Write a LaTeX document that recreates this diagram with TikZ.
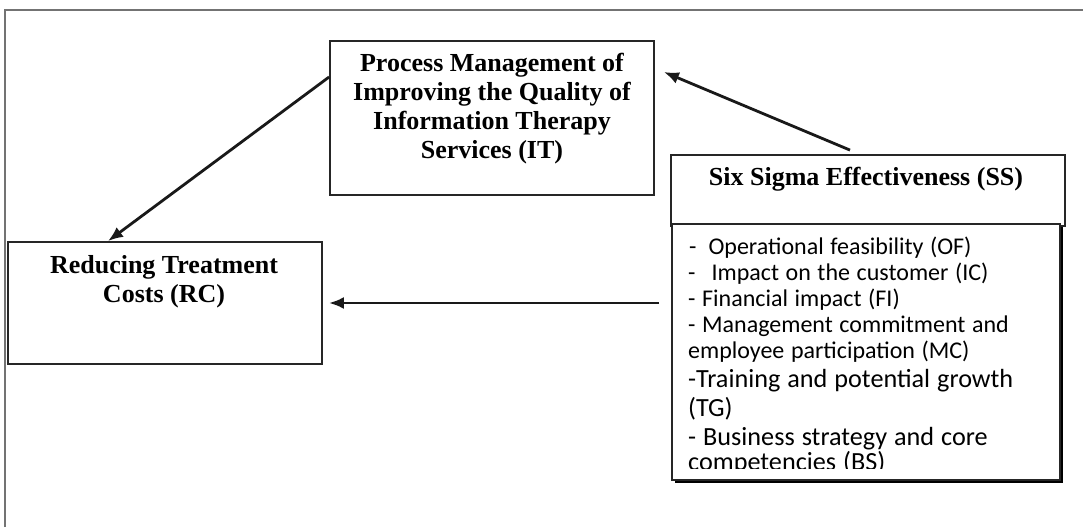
\documentclass[tikz,border=0pt]{standalone}
\usepackage{fontspec}
\setmainfont{Liberation Serif}
\newfontfamily\calibri{Carlito}
\usetikzlibrary{arrows.meta, positioning, shadows}
\tikzset{box/.style = {
  rectangle,
  draw=black!85, line width=1.8pt,
  fill=white, inner sep=0pt
  }}
\tikzset{title/.style = {
  font=\bfseries\fontsize{26}{28.7}\selectfont,
  align=center, inner sep=0pt,
  anchor=base
  }}
\tikzset{items/.style = {
  font=\calibri, text width=370pt,
  align=left, inner sep=0pt,
  anchor=base west
  }}
\tikzset{arrow/.style = {
  -{Latex[length=15pt, width=12pt]},
  line width=2.8pt,
  draw=black!90
  }}

\begin{document}
\begin{tikzpicture}[x=1pt, y=-1pt]
\useasboundingbox (0,0) rectangle (1083,527);
% frame
\draw [black!55, line width=1.6pt] (5,527) -- (5,10) -- (1083,10);

% BOXES
\node (it) [box, minimum width=324pt, minimum height=154pt] at (492,118) {};
\node (rc) [box, minimum width=314pt, minimum height=122pt] at (165,303) {};
\node (ss) [box, minimum width=394pt, minimum height=71pt] at (868,190.5) {};
\node (list) [box, minimum width=388pt, minimum height=256pt,
  drop shadow={shadow xshift=3pt, shadow yshift=-3pt, opacity=1, fill=black}]
  at (866,352) {};

% TEXTS (base = last line)
\node (it-txt) [title] at (492,158) {Process Management of\\Improving the Quality of\\Information Therapy\\Services (IT)};
\node (rc-txt) [title] at (164,302) {Reducing Treatment\\Costs (RC)};
\node (ss-txt) [title] at (866,185) {Six Sigma Effectiveness (SS)};

\begin{scope}
\clip (list.north west) rectangle ([yshift=12pt]list.south east);
\node (list-txt) [items] at (688,254) {%
  \fontsize{24}{26.2}\selectfont\spaceskip=6.6pt
  \hspace*{1pt}-\hspace{12pt}Operational feasibility (OF)\\
  -\hspace{16pt}Impact on the customer (IC)\\
  - Financial impact (FI)\\
  - Management commitment and\\
  employee participation (MC)\par
  \fontsize{26.2}{29}\selectfont\spaceskip=7pt
  -Training and potential growth\\
  (TG)\\
  - Business strategy and core\\
  competencies (BS)};
\end{scope}

% arrows
\draw [arrow] ([xshift=-18pt, yshift=4pt]ss.north) -- ([xshift=9pt, yshift=46pt]it.east);
\draw [arrow] ([yshift=41pt]it.west) -- ([xshift=-57pt]rc.north);
\draw [arrow, shorten <=12pt, shorten >=6pt] (list.west |- rc.east) -- (rc.east);
\end{tikzpicture}
\end{document}
